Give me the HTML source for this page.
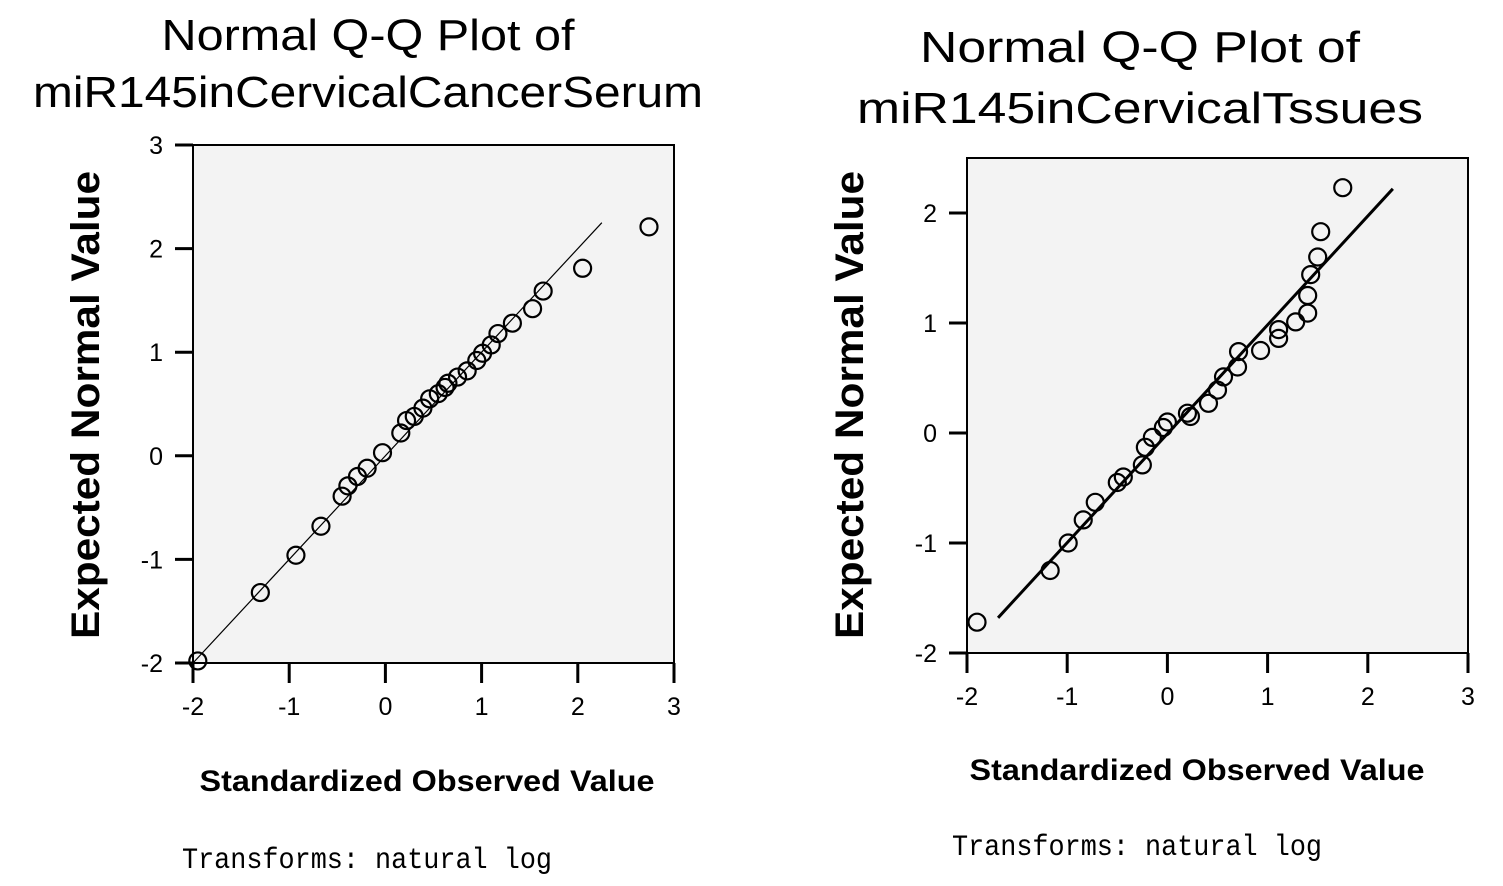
<!DOCTYPE html>
<html><head><meta charset="utf-8"><style>
html,body{margin:0;padding:0;background:#fff;}
svg{display:block;font-family:"Liberation Sans",sans-serif;}
</style></head><body>
<svg id="chart" width="1503" height="886" xmlns="http://www.w3.org/2000/svg">
<rect width="1503" height="886" fill="#fff"/>
</svg>
<script>
// Left chart data (serum)
const serumX = [-1.95,-1.3,-0.93,-0.67,-0.45,-0.39,-0.29,-0.19,-0.03,0.16,0.22,0.3,0.39,0.46,0.55,0.62,0.65,0.75,0.85,0.95,1.01,1.1,1.17,1.32,1.53,1.64,2.05,2.74];
const serumY = [-1.98,-1.32,-0.96,-0.68,-0.39,-0.29,-0.2,-0.12,0.03,0.22,0.34,0.38,0.46,0.55,0.6,0.66,0.7,0.76,0.82,0.92,0.99,1.07,1.18,1.28,1.42,1.59,1.81,2.21];
const serumLineX = [-2, 2.25];
const serumLineY = [-2, 2.25];
// Right chart data (tissues)
const tissueX = [-1.9,-1.17,-0.99,-0.84,-0.72,-0.5,-0.44,-0.25,-0.22,-0.15,-0.04,0,0.2,0.23,0.41,0.5,0.56,0.7,0.71,0.93,1.11,1.11,1.28,1.4,1.4,1.43,1.5,1.53,1.75];
const tissueY = [-1.72,-1.25,-1.0,-0.79,-0.63,-0.45,-0.4,-0.29,-0.13,-0.04,0.05,0.1,0.18,0.15,0.27,0.39,0.51,0.6,0.74,0.75,0.86,0.94,1.01,1.09,1.25,1.44,1.6,1.83,2.23];
const tissueLineX = [-1.69, 2.25];
const tissueLineY = [-1.68, 2.22];
const xTicks = [-2,-1,0,1,2,3];
const yTicksL = [-2,-1,0,1,2,3];
const yTicksR = [-2,-1,0,1,2];

const NS="http://www.w3.org/2000/svg";
const svg=document.getElementById('chart');
function mk(tag,attrs,parent){const e=document.createElementNS(NS,tag);for(const k in attrs)e.setAttribute(k,attrs[k]);(parent||svg).appendChild(e);return e;}

function drawPlot(cfg){
  const g=mk('g',{});
  
  
  const sx=v=>cfg.x0+(v-cfg.xmin)/(cfg.xmax-cfg.xmin)*(cfg.x1-cfg.x0);
  const sy=v=>cfg.y1-(v-cfg.ymin)/(cfg.ymax-cfg.ymin)*(cfg.y1-cfg.y0);
  const bg=mk('rect',{x:cfg.x0,y:cfg.y0,width:cfg.x1-cfg.x0,height:cfg.y1-cfg.y0,fill:'#f3f3f3',stroke:'#000','stroke-width':2},g);
  
  
  xTicks.forEach(t=>{
    mk('line',{x1:sx(t),x2:sx(t),y1:cfg.y1,y2:cfg.y1+20,stroke:'#000','stroke-width':3},g);
    const tx=mk('text',{x:sx(t),y:cfg.y1+52,'font-size':25,'text-anchor':'middle'},g);
    tx.textContent=t;
    
    
  });
  cfg.yTicks.forEach(t=>{
    mk('line',{x1:cfg.x0-18,x2:cfg.x0,y1:sy(t),y2:sy(t),stroke:'#000','stroke-width':3},g);
    const tx=mk('text',{x:cfg.x0-30,y:sy(t)+9,'font-size':25,'text-anchor':'end'},g);
    tx.textContent=t;
    
    
  });
  const ln=mk('line',{x1:sx(cfg.lx[0]),y1:sy(cfg.ly[0]),x2:sx(cfg.lx[1]),y2:sy(cfg.ly[1]),stroke:'#000','stroke-width':cfg.lw},g);
  
  
  cfg.xs.forEach((v,i)=>{
    const c=mk('circle',{cx:sx(v),cy:sy(cfg.ys[i]),r:8.5,fill:'none',stroke:'#000','stroke-width':2.2},g);
    
    
  });
  cfg.title.forEach((s,i)=>{
    const t=mk('text',{x:cfg.tcx,y:cfg.ty+i*cfg.tdy,'font-size':44,'text-anchor':'middle',textLength:cfg.tlen[i],lengthAdjust:'spacingAndGlyphs'},g);
    t.textContent=s;
    
    
  });
  const yt=mk('text',{x:0,y:0,'font-size':40,'font-weight':'bold','text-anchor':'middle',textLength:468,lengthAdjust:'spacingAndGlyphs',transform:`translate(${cfg.yax},${cfg.yay}) rotate(-90)`},g);
  yt.textContent='Expected Normal Value';
  
  
  const xt=mk('text',{x:cfg.xtc,y:cfg.xty,'font-size':30,'font-weight':'bold','text-anchor':'middle',textLength:455,lengthAdjust:'spacingAndGlyphs'},g);
  xt.textContent='Standardized Observed Value';
  
  
  const tf=mk('text',{x:cfg.tfx,y:cfg.tfy,'font-size':30,'font-family':'Liberation Mono, monospace',textLength:370,lengthAdjust:'spacingAndGlyphs'},g);
  tf.textContent='Transforms: natural log';
  
  
}
drawPlot({name:'serum-qq-plot',x0:193,x1:674,y0:145,y1:663,xmin:-2,xmax:3,ymin:-2,ymax:3,yTicks:yTicksL,
  xs:serumX,ys:serumY,lx:serumLineX,ly:serumLineY,lw:1.2,
  title:['Normal Q-Q Plot of','miR145inCervicalCancerSerum'],tlen:[413,670],tcx:368,ty:50,tdy:57,
  yax:99,yay:405,xtc:427,xty:791,tfx:182,tfy:868});
drawPlot({name:'tissue-qq-plot',x0:967,x1:1468,y0:158,y1:653,xmin:-2,xmax:3,ymin:-2,ymax:2.5,yTicks:yTicksR,
  xs:tissueX,ys:tissueY,lx:tissueLineX,ly:tissueLineY,lw:3,
  title:['Normal Q-Q Plot of','miR145inCervicalTssues'],tlen:[440,566],tcx:1140,ty:62,tdy:61,
  yax:863,yay:405,xtc:1197,xty:780,tfx:952,tfy:855});
</script>
</body></html>
